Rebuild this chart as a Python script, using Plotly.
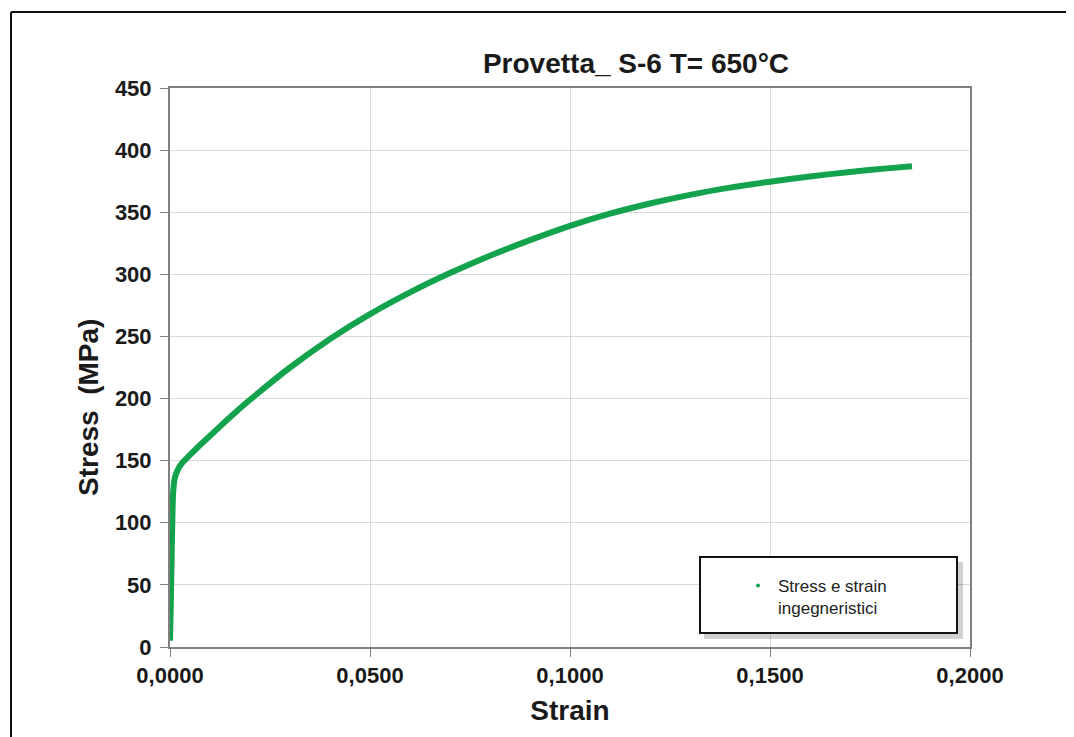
import plotly.graph_objects as go

# Data
strain = [0.0, 0.0002, 0.0004, 0.0006, 0.0008, 0.0012, 0.0020, 0.0030, 0.0045,
          0.0070, 0.0100, 0.0150, 0.0200, 0.0300, 0.0400, 0.0500, 0.0600, 0.0700,
          0.0800, 0.0900, 0.1000, 0.1100, 0.1200, 0.1300, 0.1400, 0.1500, 0.1600,
          0.1700, 0.1800, 0.1855]
stress = [5, 35, 70, 105, 125, 136, 143, 148, 153,
          161, 170, 185, 199, 225, 248, 268, 285.5, 301,
          315, 327.5, 339, 348.8, 357, 364, 369.8, 374.6, 378.8,
          382.4, 385.5, 387]

series_name = "Stress e strain<br>ingegneristici"
title_text = "Provetta_ S-6 T= 650°C"
x_title = "Strain"
y_title = "Stress  (MPa)"
x_ticks = [0.0, 0.05, 0.10, 0.15, 0.20]
y_ticks = [0, 50, 100, 150, 200, 250, 300, 350, 400, 450]

GREEN = "#13a34c"
OFF = 8  # default page body margin
W, H = 1074 - OFF, 737 - OFF
# plot area in screen pixels: x 170..970, y 88..647
L, R, T, B = 170 - OFF, W - (970 - OFF), 88 - OFF, H - (647 - OFF)
pw, ph = W - L - R, H - T - B

def px(xs):
    return (xs - OFF - L) / pw

def py(ys):
    return (H - B - (ys - OFF)) / ph

FONT = "Liberation Sans, Arial"

fig = go.Figure()
fig.add_trace(go.Scatter(x=strain, y=stress, mode="lines",
                         line=dict(color=GREEN, width=6, shape="spline", smoothing=0.8),
                         showlegend=False))
fig.add_trace(go.Scatter(x=[None], y=[None], mode="markers", name=series_name,
                         marker=dict(color=GREEN, size=4), showlegend=True))

axis_common = dict(showline=True, linecolor="#808080", linewidth=2, mirror=True,
                   ticks="outside", ticklen=8, tickcolor="#808080", tickwidth=1,
                   showgrid=True, gridcolor="#d9d9d9", gridwidth=1, zeroline=False,
                   tickfont=dict(family=FONT, size=22, color="#1a1a1a", weight="bold"))

fig.update_layout(
    width=W, height=H,
    margin=dict(l=L, r=R, t=T, b=B),
    paper_bgcolor="white", plot_bgcolor="white",
    separators=",.",
    font=dict(family=FONT, color="#1a1a1a"),
    title=dict(text="<b>" + title_text + "</b>", x=(636 - OFF) / W, xanchor="center",
               y=1 - (63 - OFF) / H, yanchor="middle",
               font=dict(family=FONT, size=28, color="#1a1a1a")),
    xaxis=dict(range=[0, 0.2], tickvals=x_ticks, tickformat=".4f",
               title=dict(text="<b>" + x_title + "</b>", font=dict(size=28), standoff=13),
               **axis_common),
    yaxis=dict(range=[0, 450], tickvals=y_ticks, ticklabelstandoff=4,
               **axis_common),
    annotations=[
        dict(text="<b>" + y_title + "</b>", xref="paper", yref="paper",
             x=px(88), y=py(408), xanchor="center", yanchor="middle",
             textangle=-90, showarrow=False,
             font=dict(family=FONT, size=28, color="#1a1a1a")),
    ],
    legend=dict(x=px(738), y=py(568), xanchor="left", yanchor="top",
                bgcolor="rgba(0,0,0,0)", borderwidth=0, valign="top",
                font=dict(family=FONT, size=17, color="#222222")),
    shapes=[
        # legend shadow
        dict(type="rect", xref="paper", yref="paper", x0=px(704), x1=px(963), y0=py(562), y1=py(639),
             line=dict(width=0), fillcolor="rgba(0,0,0,0.18)", layer="above"),
        # legend box
        dict(type="rect", xref="paper", yref="paper", x0=px(700), x1=px(957), y0=py(557), y1=py(633),
             line=dict(color="#111111", width=2), fillcolor="white", layer="above"),
        # outer frame (left and top)
        dict(type="line", xref="paper", yref="paper", x0=px(11), x1=px(11), y0=py(12), y1=py(737 + 5),
             line=dict(color="#111111", width=2)),
        dict(type="line", xref="paper", yref="paper", x0=px(11), x1=px(1074 + 5), y0=py(12), y1=py(12),
             line=dict(color="#111111", width=2)),
    ],
)

fig.write_html("out.html")
